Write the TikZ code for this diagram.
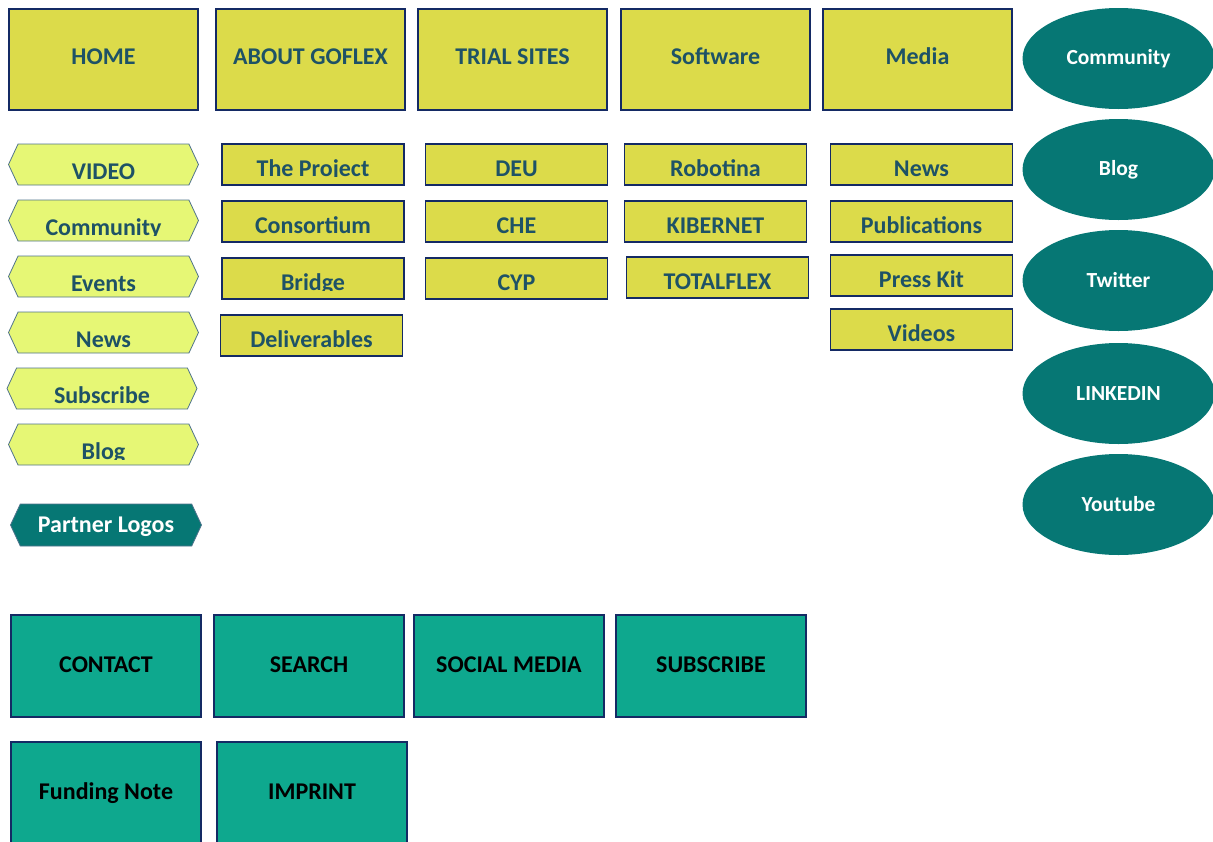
\documentclass[tikz,border=0pt]{standalone}
\usepackage{fontspec}
\setmainfont{Carlito}
\usepackage{tikz}
\usetikzlibrary{shapes.geometric, shapes.symbols, positioning}
\definecolor{navy}{RGB}{20, 42, 100}
\definecolor{menuyellow}{RGB}{220, 219, 74}
\definecolor{tabyellow}{RGB}{230, 247, 117}
\definecolor{tabline}{RGB}{80, 115, 140}
\definecolor{labelblue}{RGB}{30, 82, 102}
\definecolor{darkteal}{RGB}{6, 119, 116}
\definecolor{lightteal}{RGB}{14, 168, 142}
\tikzset{
    menubox/.style = {rectangle, draw=navy, fill=menuyellow, line width=1.6pt, outer sep=0pt, text=labelblue, minimum width=189pt, minimum height=101pt, inner sep=0pt, text height=15pt, text depth=5pt},
    subbox/.style = {rectangle, draw=navy, fill=menuyellow, line width=1.6pt, outer sep=0pt, text=labelblue, minimum width=182pt, minimum height=41pt, inner sep=0pt, text height=24pt, text depth=0pt},
    tabbox/.style = {signal, signal to=west and east, signal pointer angle=130, draw=tabline, fill=tabyellow, line width=0.8pt, outer sep=0pt, text=labelblue, minimum width=190pt, minimum height=41pt, inner sep=0pt, text height=29pt, text depth=0pt},
    partnertab/.style = {tabbox, fill=darkteal, text=white, text height=15pt, text depth=0pt, minimum width=191pt, minimum height=42pt},
    social/.style = {ellipse, fill=darkteal, outer sep=0pt, text=white, minimum width=192pt, minimum height=101pt, font=\bfseries\fontsize{21.5}{25}\selectfont},
    footbox/.style = {rectangle, draw=navy, fill=lightteal, line width=1.6pt, outer sep=0pt, text=black, minimum width=190pt, minimum height=102pt, inner sep=0pt, text height=15pt, text depth=3pt},
    % label sitting on a low baseline, cut off at that baseline
    cutlabel/.style 2 args = {path picture={
        \clip ([yshift=#1]path picture bounding box.south west) rectangle (path picture bounding box.north east);
        \node [shape=rectangle, draw=none, fill=none, anchor=base, inner sep=0pt, minimum size=0pt, text=labelblue] at ([yshift=#1]path picture bounding box.south) {#2};}}
}

\begin{document}
\begin{tikzpicture}[x=1pt, y=-1pt, font=\bfseries\fontsize{24}{28}\selectfont]
\clip (0,0) rectangle (1213,841);

% main menu
\node (home) [menubox] at (103.5,59.5) {HOME};
\node (about) [menubox, right=18pt of home] {ABOUT GOFLEX};
\node (sites) [menubox, right=13pt of about] {TRIAL SITES};
\node (software) [menubox, right=14pt of sites] {Software};
\node (media) [menubox, right=13pt of software] {Media};

% side tabs
\node (video) [tabbox, below=34pt of home] {VIDEO};
\node (tabcommunity) [tabbox, cutlabel={6pt}{Community}, below=15pt of video] {};
\node (events) [tabbox, below=15pt of tabcommunity] {Events};
\node (tabnews) [tabbox, below=15pt of events] {News};
\node (tabsubscribe) [tabbox, below=15pt of tabnews, xshift=-1.5pt] {Subscribe};
\node (tabblog) [tabbox, cutlabel={6pt}{Blog}, below=15pt of tabsubscribe, xshift=1.5pt] {};
\node (partners) [partnertab, below=39pt of tabblog, xshift=2.5pt] {Partner Logos};

% sub menus
\node (project) [subbox, cutlabel={8.5pt}{The Project}, below=34pt of about, xshift=2.5pt] {};
\node (consortium) [subbox, below=16pt of project] {Consortium};
\node (bridge) [subbox, cutlabel={8.5pt}{Bridge}, below=16pt of consortium] {};
\node (deliverables) [subbox, below=16pt of bridge, xshift=-1.5pt] {Deliverables};

\node (deu) [subbox, below=34pt of sites, xshift=4pt] {DEU};
\node (che) [subbox, below=16pt of deu] {CHE};
\node (cyp) [subbox, below=16pt of che] {CYP};

\node (robotina) [subbox, below=34pt of software] {Robotina};
\node (kibernet) [subbox, below=16pt of robotina] {KIBERNET};
\node (totalflex) [subbox, below=15pt of kibernet, xshift=2pt] {TOTALFLEX};

\node (news) [subbox, below=34pt of media, xshift=4pt] {News};
\node (publications) [subbox, below=16pt of news] {Publications};
\node (presskit) [subbox, below=13pt of publications] {Press Kit};
\node (videos) [subbox, below=13pt of presskit] {Videos};

% social media
\node (community) [social] at (1118.5,58.5) {Community};
\node (blog) [social, below=10pt of community] {Blog};
\node (twitter) [social, below=10pt of blog] {Twitter};
\node (linkedin) [social, below=12pt of twitter] {LINKEDIN};
\node (youtube) [social, below=10pt of linkedin] {Youtube};

% footer
\node (contact) [footbox] at (106,666) {CONTACT};
\node (search) [footbox, right=13pt of contact] {SEARCH};
\node (socialmedia) [footbox, right=10pt of search] {SOCIAL MEDIA};
\node (subscribe) [footbox, right=12pt of socialmedia] {SUBSCRIBE};
\node (funding) [footbox, below=25pt of contact] {Funding Note};
\node (imprint) [footbox, right=16pt of funding] {IMPRINT};
\end{tikzpicture}
\end{document}
